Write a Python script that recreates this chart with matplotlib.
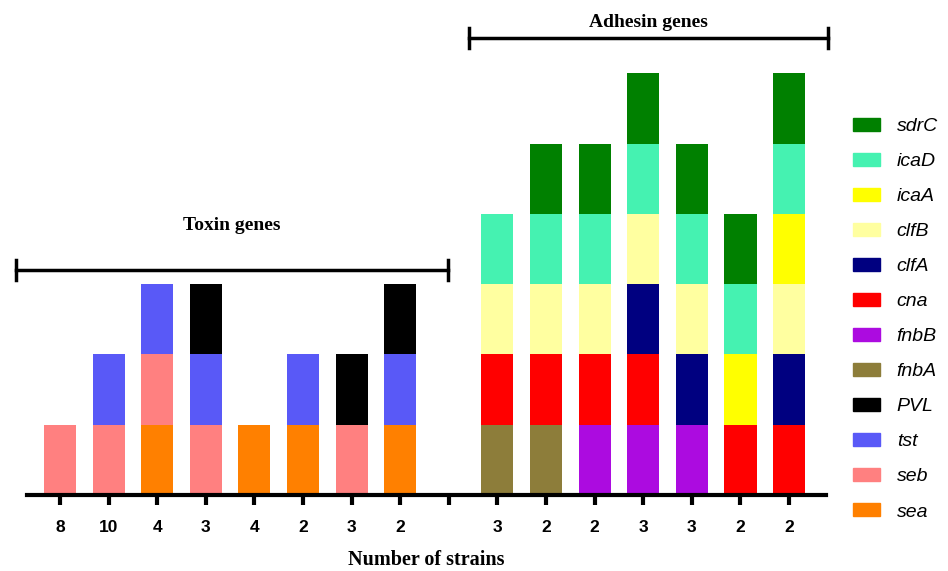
import numpy as np
import matplotlib
matplotlib.use('Agg')
import matplotlib.pyplot as plt
import matplotlib.patches as mpatches

# number of strains for each gene profile
toxin_counts = ['8', '10', '4', '3', '4', '2', '3', '2']
adhesin_counts = ['3', '2', '2', '3', '3', '2', '2']

# gene profiles, listed bottom to top
toxin_profiles = [
    ['seb'],
    ['seb', 'tst'],
    ['sea', 'seb', 'tst'],
    ['seb', 'tst', 'PVL'],
    ['sea'],
    ['sea', 'tst'],
    ['seb', 'PVL'],
    ['sea', 'tst', 'PVL'],
]
adhesin_profiles = [
    ['fnbA', 'cna', 'clfB', 'icaD'],
    ['fnbA', 'cna', 'clfB', 'icaD', 'sdrC'],
    ['fnbB', 'cna', 'clfB', 'icaD', 'sdrC'],
    ['fnbB', 'cna', 'clfA', 'clfB', 'icaD', 'sdrC'],
    ['fnbB', 'clfA', 'clfB', 'icaD', 'sdrC'],
    ['cna', 'icaA', 'icaD', 'sdrC'],
    ['cna', 'clfA', 'clfB', 'icaA', 'icaD', 'sdrC'],
]

genes = ['sdrC', 'icaD', 'icaA', 'clfB', 'clfA', 'cna',
         'fnbB', 'fnbA', 'PVL', 'tst', 'seb', 'sea']
colors = {'sdrC': '#008000', 'icaD': '#45F2B1', 'icaA': '#FFFF00',
          'clfB': '#FFFFA0', 'clfA': '#000080', 'cna': '#FF0000',
          'fnbB': '#AC0BE0', 'fnbA': '#8D7D3A', 'PVL': '#000000',
          'tst': '#5959F7', 'seb': '#FF8080', 'sea': '#FF8000'}

fig = plt.figure(figsize=(9.48, 5.71), dpi=100)
ax = fig.add_axes([27/948, 76/571, 799/948, 480/571])

profiles = toxin_profiles + [[]] + adhesin_profiles
labels = toxin_counts + [''] + adhesin_counts
x = np.arange(len(profiles))

for xi, prof in zip(x, profiles):
    for level, g in enumerate(prof):
        ax.bar(xi, 1, bottom=level, width=0.66, color=colors[g],
               linewidth=0)

ax.set_xlim(-0.68, 15.76)
ax.set_ylim(0, 6.83)
for s in ['top', 'right', 'left']:
    ax.spines[s].set_visible(False)
ax.spines['bottom'].set_linewidth(3)
ax.set_yticks([])
ax.set_xticks(x)
ax.set_xticklabels(labels, fontsize=12.5, fontweight='bold',
                   family='Liberation Sans')
ax.tick_params(axis='x', direction='out', length=7, width=3, pad=11)

fig.text(426/948, 11/571, 'Number of strains', ha='center', va='center',
         family='Liberation Serif', fontweight='bold', fontsize=14.5)


def bracket(x0, x1, y, text, ty):
    ax.plot([x0, x1], [y, y], color='black', lw=2.5, clip_on=False)
    for xe in (x0, x1):
        ax.plot([xe, xe], [y - 0.14, y + 0.14], color='black', lw=2.5,
                clip_on=False)
    ax.text((x0 + x1) / 2, ty, text, ha='center', va='center',
            family='Liberation Serif', fontweight='bold', fontsize=14,
            clip_on=False)


bracket(-0.905, 7.98, 3.2, 'Toxin genes', 3.83)
bracket(8.42, 15.8, 6.5, 'Adhesin genes', 6.73)

handles = [mpatches.Patch(color=colors[g], label=g) for g in genes]
leg = fig.legend(handles=handles, loc='upper left',
                 bbox_to_anchor=(853/948, 1 - 118/571), frameon=False,
                 prop={'family': 'Liberation Sans', 'style': 'italic',
                       'size': 14},
                 borderaxespad=0, borderpad=0,
                 handlelength=1.4, handleheight=0.62, labelspacing=0.92,
                 handletextpad=0.85)

fig.savefig('out.png', dpi=100)
